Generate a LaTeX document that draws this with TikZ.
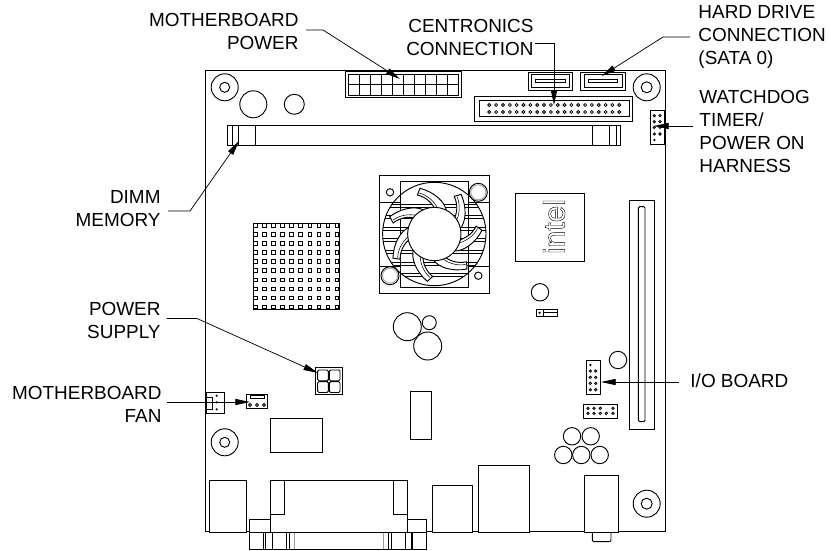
\documentclass[tikz,border=0pt]{standalone}
\usepackage{fontspec}
\setmainfont{Liberation Sans}
\usetikzlibrary{arrows.meta}
\tikzset{
  lbl/.style={inner sep=0pt, align=left, font=\fontsize{14.2pt}{17.25pt}\selectfont},
  lblr/.style={lbl, align=right, anchor=east},
  lbll/.style={lbl, align=left, anchor=west},
  leader/.style={draw, line width=.55pt, -{Triangle[length=11pt,width=4.6pt]}},
  part/.style={draw, line width=.7pt, fill=white},
  pin/.style={draw, line width=.6pt, fill=white, radius=1.5},
  hole/.style={draw, line width=.7pt, radius=8.7}
}
\begin{document}
\begin{tikzpicture}[x=.75pt, y=-.75pt, line width=.7pt]
\useasboundingbox (0,0) rectangle (831,550);
\draw (205.7,70) rectangle (665.7,531);

\draw[part] (345.7,71.3) rectangle (461.7,97.7);
\draw (348.3,74) rectangle (458.3,95);
\foreach \i in {1,...,9} \draw (348.3+\i*11,74) -- (348.3+\i*11,95);
\draw (348.3,84.5) -- (458.3,84.5);

\draw[part] (528.3,72) rectangle (572.3,90);
\draw (531.3,74.7) rectangle (569.7,87.3);
\draw (535,79) rectangle (565,82.3);
\draw[part] (580.7,72) rectangle (625.7,90);
\draw (584,74.7) rectangle (622,87.3);
\draw (588,79) rectangle (617.7,82.3);

\draw[part] (474.7,96.7) rectangle (632.3,121.3);
\draw (479.3,100.7) rectangle (629,116.7);
\foreach \i in {0,...,19} {
  \draw[pin] (489.3+\i*6.84,105) circle;
  \draw[pin] (489.3+\i*6.84,112) circle;
}

\draw (224.7,87.3) circle[radius=13.5];
\draw (224.7,87.3) circle[radius=5];
\draw (646.7,87.3) circle[radius=13.5];
\draw (646.7,87.3) circle[radius=5.5];
\draw (224.7,442.3) circle[radius=13.5];
\draw (224.7,442.3) circle[radius=5];
\draw (646.7,503.7) circle[radius=13.5];
\draw (646.7,503.7) circle[radius=5.5];
\draw (253.3,104.3) circle[radius=13.5];
\draw (294.3,104.3) circle[radius=10];

\draw[part] (227.7,125.3) rectangle (620.3,145.7);
\foreach \i in {232,238.7,255.3,592.3,609.7,616} \draw (\i,125.3) -- (\i,145.7);

\draw[part] (650.3,110.7) rectangle (664,144.3);
\foreach \j in {115.7,121.7,127.3,134} {
  \draw[pin,radius=1.2] (654.3,\j) circle;
  \draw[pin,radius=1.2] (660,\j) circle;
}
\fill (654.3,140) circle[radius=1.2];

\foreach \i in {0,...,9} \foreach \j in {0,...,9}
  \draw[line width=.6pt] (253.3+\i*9.1,223.3+\j*9.1) rectangle +(3.6,3.6);
\draw (253.3,223.3) rectangle (339,309.3);

\draw (379.3,175.3) rectangle (489,293.3);
\draw (400,181.3) rectangle (468.7,287.3);
\draw (379.3,202.3) -- (400,202.3);
\draw (468.7,202.3) -- (489,202.3);
\draw (379.3,266) -- (400,266);
\draw (468.7,266) -- (489,266);
\begin{scope}
\clip (434.3,234) circle[radius=51.7];
\foreach \j in {204,215,227,238,250,262,273} {
  \draw[line width=.4pt] (370,\j) -- (500,\j);
  \draw[line width=.4pt] (370,\j+3.5) -- (500,\j+3.5);
}
\end{scope}
\draw (434.3,234) circle[radius=51.7];
\foreach \i in {0,...,6} {
  \begin{scope}[shift={(434.3,234)}, rotate=-\i*51.43]
  \draw[fill=white] (12.3,-22.3) .. controls (11,-32) and (0,-42) .. (-14.3,-45.7) -- (-17,-39) .. controls (-8,-37) and (-1,-30) .. (0.7,-24) -- cycle;
  \draw[line width=.4pt] (-15,-41) .. controls (-7,-39) and (1,-32) .. (4,-24);
  \end{scope}
}
\draw[fill=white] (434.3,234) circle[radius=26.7];
\draw[fill=white] (478.3,192.3) circle[radius=9];
\draw[black!35] (478.3,192.3) circle[radius=7.5];
\draw[fill=white] (390,275.7) circle[radius=9];
\draw[black!35] (390,275.7) circle[radius=7.5];
\draw (390,192.3) circle[radius=3.7];
\draw (478.3,275.7) circle[radius=3.7];

\draw (515.7,193.3) rectangle (584.3,261.7);
\node[rotate=90, inner sep=0pt, font=\fontsize{22.5pt}{22.5pt}\selectfont] (logo) at (554,226.5) {\special{pdf:code 1 Tr 0.3 w}intel\special{pdf:code 0 Tr}};

\draw[hole] (540,292.3) circle;
\draw (536.3,309.7) rectangle (557.3,316);
\draw (543.3,309.7) -- (543.3,316);
\draw (543.3,312.8) -- (557.3,312.8);
\fill (539.6,312.8) circle[radius=1.2];

\draw (407.3,326.7) circle[radius=14];
\draw (429.3,322.7) circle[radius=7];
\draw (427.7,346) circle[radius=14];

\draw[part] (315,367.3) rectangle (342.7,394.7);
\foreach \i in {317.7,329.3} \foreach \j in {370,381.7}
  \draw[rounded corners=1pt] (\i,\j) rectangle +(10.7,10.8);

\draw[part] (206.7,392.3) rectangle (224,413);
\draw (206.7,397) -- (212,397) -- (212,409) -- (206.7,409);
\foreach \j in {395.7,402.3,409.3} \fill (216.7,\j) circle[radius=1.2];
\draw[part] (246.3,394.3) rectangle (267.3,408.7);
\draw (250.7,395.7) rectangle (264,398.3);
\foreach \i in {250,257,264} \draw[pin] (\i,405) circle;

\draw (270.7,418.7) rectangle (322.3,452.3);
\draw (410.7,391.7) rectangle (431,439);

\draw[part] (629.3,200) rectangle (654,429);
\draw[rounded corners=1pt] (638.3,206.7) rectangle (645,421.7);
\draw[hole] (618,360) circle;

\draw[part] (586.3,360.7) rectangle (600.3,394.7);
\fill (590.3,365) circle[radius=1.3];
\foreach \j in {371,377.3,383.3,389.7} {
  \draw[pin,radius=1.2] (590.3,\j) circle;
  \draw[pin,radius=1.2] (595.7,\j) circle;
}
\draw[part] (583.3,404.3) rectangle (617.3,418);
\foreach \i in {588,594,600.3,613} \draw[pin,radius=1.2] (\i,408.3) circle;
\foreach \i in {588,594,600.3,606.3,613} \draw[pin,radius=1.2] (\i,413.3) circle;

\draw[hole] (572,436.3) circle;
\draw[hole] (590.7,436.3) circle;
\draw[hole] (563.3,455) circle;
\draw[hole] (581.3,455) circle;
\draw[hole] (599.7,455) circle;

\draw[part] (209.3,480) rectangle (246.7,532.7);
\draw[part] (249.7,519.3) rectangle (426.7,532.7);
\draw[part] (249.7,532.7) rectangle (426.7,549);
\foreach \i in {263.3,265.7,272,286.7,289,388.3,391.7,405,405.7,411,412.3} \draw (\i,532.7) -- (\i,549);
\draw[black!40] (294.3,532.7) -- (294.3,549);
\draw[black!40] (383.3,532.7) -- (383.3,549);
\draw[part] (270.7,480) rectangle (407.3,532.7);
\draw (270.7,514.3) -- (284.3,514.3) -- (284.3,480);
\draw (407.3,514.3) -- (393,514.3) -- (393,480);
\draw[part] (432.7,485.3) rectangle (472,532.7);
\draw[part] (478.7,465.3) rectangle (529.3,532.7);
\draw[part, rounded corners=1.5pt] (592.3,530) -- (592.3,541.7) -- (611,541.7) -- (611,530);
\draw[part] (584.3,475.3) rectangle (618.3,532.7);

\node[lblr] (mbpower) at (299,31.5) {MOTHERBOARD\\POWER};
\node[lblr] (centronics) at (534,37.5) {CENTRONICS\\CONNECTION};
\node[lbll] (harddrive) at (698,37) {HARD DRIVE\\CONNECTION\\(SATA 0)};
\node[lbll] (watchdog) at (699,131) {WATCHDOG\\TIMER/\\POWER ON\\HARNESS};
\node[lblr] (dimm) at (161,209) {DIMM\\MEMORY};
\node[lblr] (supply) at (161,320.5) {POWER\\SUPPLY};
\node[lblr] (mbfan) at (162,404.5) {MOTHERBOARD\\FAN};
\node[lbll] (ioboard) at (690,381) {I/O BOARD};

\coordinate (mbpowerstart) at (306,30);
\coordinate (mbpowerbend) at (323,30);
\coordinate (mbpowertip) at (400,79);
\coordinate (centronicsstart) at (535,43);
\coordinate (centronicsbend) at (554,43);
\coordinate (centronicstip) at (554,105);
\coordinate (harddrivestart) at (690,37);
\coordinate (harddrivebend) at (663,37);
\coordinate (harddrivetip) at (601.7,76);
\coordinate (watchdogstart) at (693,126);
\coordinate (watchdogtip) at (654,126);
\coordinate (dimmstart) at (168,211);
\coordinate (dimmbend) at (190,211);
\coordinate (dimmtip) at (239,141);
\coordinate (supplystart) at (166.5,318.5);
\coordinate (supplybend) at (197,318.5);
\coordinate (supplytip) at (318,373);
\coordinate (mbfanstart) at (167,402);
\coordinate (mbfantip) at (250,402);
\coordinate (ioboardstart) at (679,382);
\coordinate (ioboardtip) at (601,382);

\draw[leader] (mbpowerstart) -- (mbpowerbend) -- (mbpowertip);
\draw[leader] (centronicsstart) -- (centronicsbend) -- (centronicstip);
\draw[leader] (harddrivestart) -- (harddrivebend) -- (harddrivetip);
\draw[leader] (watchdogstart) -- (watchdogtip);
\draw[leader] (dimmstart) -- (dimmbend) -- (dimmtip);
\draw[leader] (supplystart) -- (supplybend) -- (supplytip);
\draw[leader] (mbfanstart) -- (mbfantip);
\draw[leader] (ioboardstart) -- (ioboardtip);
\end{tikzpicture}
\end{document}
